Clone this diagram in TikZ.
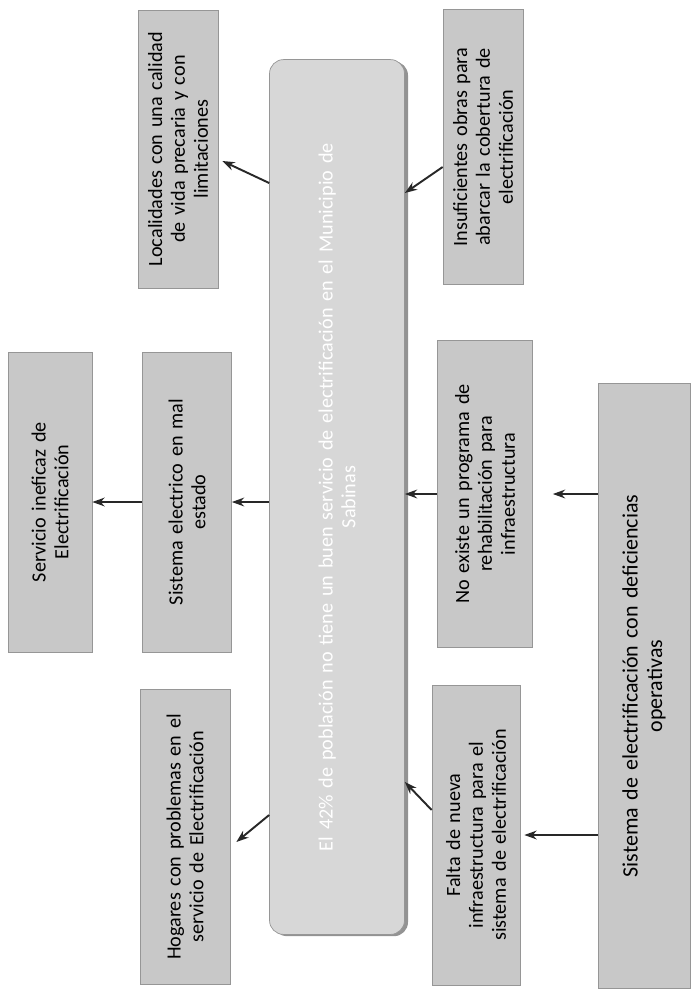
\documentclass[tikz,border=0pt]{standalone}
\usepackage{fontspec}
\setmainfont{Carlito}
\usetikzlibrary{arrows.meta, calc, shadows}
\definecolor{boxgray}{RGB}{200, 200, 200}
\definecolor{boxline}{RGB}{150, 150, 150}
\definecolor{centgray}{RGB}{215, 215, 215}
\definecolor{darkline}{RGB}{40, 40, 40}

\begin{document}
\begin{tikzpicture}[x=0.02cm, y=-0.02cm,
        box/.style={rectangle, draw=boxline, fill=boxgray, rotate=90,
            align=center, inner sep=2pt, font=\fontsize{11.5}{13}\selectfont},
        centbox/.style={rectangle, rounded corners=8pt, draw=boxline, fill=centgray,
            rotate=90, align=center, text=white,
            font=\fontsize{11.5}{13}\selectfont,
            drop shadow={shadow xshift=2pt, shadow yshift=-1pt, fill=darkline}},
        arr/.style={-{Stealth[length=7pt, width=5pt]}, line width=1.1pt, color=darkline}
        ]
        \useasboundingbox (0,0) rectangle (694,995);

        % problema central
        \node[centbox, minimum width=17.5cm, minimum height=2.7cm, text width=16.8cm]
            (cent) at (337,497)
            {El 42\% de población no tiene un buen servicio de electrificación en el Municipio de\\Sabinas};

        % efectos
        \node[box, minimum width=5.56cm, minimum height=1.6cm, text width=5.2cm]
            (loc) at (178,149)
            {Localidades con una calidad\\de vida precaria y con\\limitaciones};
        \node[box, minimum width=6cm, minimum height=1.68cm, text width=5.6cm]
            (serv) at (50,502)
            {Servicio ineficaz de\\Electrificación};
        \node[box, minimum width=6cm, minimum height=1.78cm, text width=5.6cm]
            (sel) at (187,502)
            {Sistema electrico en mal\\estado};
        \node[box, minimum width=5.9cm, minimum height=1.8cm, text width=5.6cm]
            (hog) at (185,837)
            {Hogares con problemas en el\\servicio de Electrificación};

        % causas
        \node[box, minimum width=5.5cm, minimum height=1.6cm, text width=5.2cm]
            (ins) at (483,147)
            {Insuficientes obras para\\abarcar la cobertura de\\electrificación};
        \node[box, minimum width=6.14cm, minimum height=1.9cm, text width=5.8cm]
            (noex) at (485,494)
            {No existe un programa de\\rehabilitación para\\infraestructura};
        \node[box, minimum width=6cm, minimum height=1.76cm, text width=5.6cm]
            (fal) at (476,835)
            {Falta de nueva\\infraestructura para el\\sistema de electrificación};
        \node[box, minimum width=12.1cm, minimum height=1.84cm, text width=11.6cm,
            font=\fontsize{12.5}{14}\selectfont]
            (sde) at (644,686)
            {Sistema de electrificación con deficiencias\\operativas};

        \draw[arr] (cent.north |- 0,183) -- ($(loc.south)+(4,12)$);
        \draw[arr] (cent.north |- sel.south) -- (sel.south);
        \draw[arr] (sel.north) -- (serv.south);
        \draw[arr] (cent.north |- 0,815) -- ($(hog.south)+(6,5)$);

        \draw[arr] ($(ins.north)+(0,20)$) -- (cent.south |- 0,193);
        \draw[arr] (noex.north) -- (cent.south |- noex.north);
        \draw[arr] ($(fal.north)+(0,-25)$) -- (cent.south |- 0,782);
        \draw[arr] (sde.north |- noex.south) -- ($(noex.south)+(20,0)$);
        \draw[arr] (sde.north |- fal.south) -- ($(fal.south)+(4,0)$);
    \end{tikzpicture}
\end{document}
